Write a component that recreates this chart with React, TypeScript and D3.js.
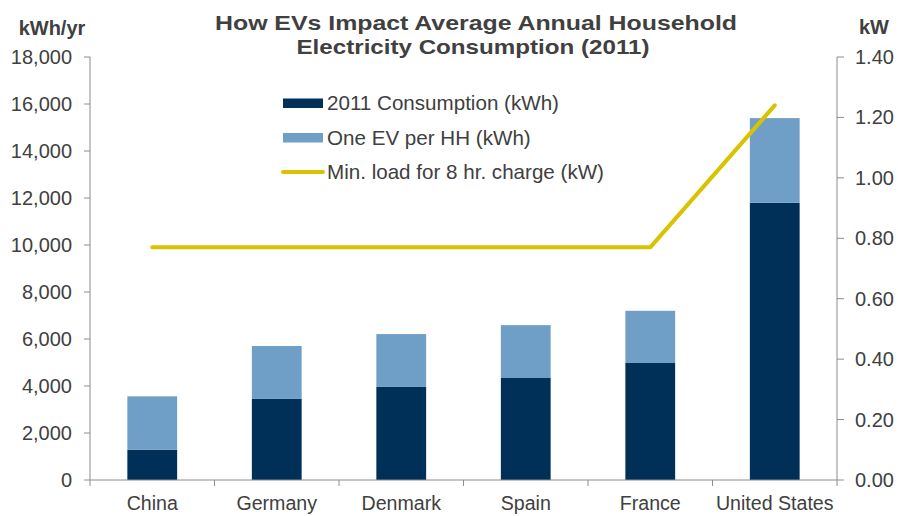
import React from "react";
import * as d3 from "d3";

const categories = ["China", "Germany", "Denmark", "Spain", "France", "United States"];
const consumption = [1290, 3450, 3960, 4340, 4980, 11800];
const oneEV = [2270, 2250, 2250, 2250, 2220, 3600];
const minLoad = [0.77, 0.77, 0.77, 0.77, 0.77, 1.24];
const leftTicks = [0, 2000, 4000, 6000, 8000, 10000, 12000, 14000, 16000, 18000];
const rightTicks = [0, 0.2, 0.4, 0.6, 0.8, 1.0, 1.2, 1.4];
const legendLabels = ["2011 Consumption (kWh)", "One EV per HH (kWh)", "Min. load for 8 hr. charge (kW)"];

const W = 898, H = 516;
const L = 90, R = 837, T = 57, B = 480;
const FONT = "Liberation Sans, Arial, sans-serif";
const TXT = "#404040";
const DARK = "#003057";
const LIGHT = "#6f9fc6";
const YEL = "#d9c300";
const AX = "#8c8c8c";

export default function App() {
  const x = d3.scaleBand<string>().domain(categories).range([L, R]).paddingInner(0).paddingOuter(0);
  const yL = d3.scaleLinear().domain([0, 18000]).range([B, T]);
  const yR = d3.scaleLinear().domain([0, 1.4]).range([B, T]);
  const bw = x.bandwidth() * 0.4;
  const cx = (c: string) => (x(c) as number) + x.bandwidth() / 2;
  const line = d3.line<number>().x((_, i) => cx(categories[i])).y((d) => yR(d));
  const fmtL = d3.format(",");
  const fmtR = d3.format(".2f");
  const boundaries = d3.range(categories.length + 1).map((i) => L + i * x.bandwidth());

  return (
    <svg width={W} height={H} style={{ position: "absolute", left: 0, top: 0 }} fontFamily={FONT}>
      <rect width={W} height={H} fill="#fff" />
      <text x={476} y={30} textAnchor="middle" fontSize={21} fontWeight="bold" fill={TXT} textLength={522} lengthAdjust="spacingAndGlyphs">How EVs Impact Average Annual Household</text>
      <text x={473} y={54} textAnchor="middle" fontSize={21} fontWeight="bold" fill={TXT} textLength={353} lengthAdjust="spacingAndGlyphs">Electricity Consumption (2011)</text>
      <text x={52} y={35} textAnchor="middle" fontSize={20} fontWeight="bold" fill={TXT}>kWh/yr</text>
      <text x={874} y={34} textAnchor="middle" fontSize={20} fontWeight="bold" fill={TXT}>kW</text>

      {categories.map((c, i) => (
        <g key={c}>
          <rect x={cx(c) - bw / 2} y={yL(consumption[i])} width={bw} height={B - yL(consumption[i])} fill={DARK} />
          <rect x={cx(c) - bw / 2} y={yL(consumption[i] + oneEV[i])} width={bw} height={yL(consumption[i]) - yL(consumption[i] + oneEV[i])} fill={LIGHT} />
        </g>
      ))}

      <path d={line(minLoad) as string} fill="none" stroke={YEL} strokeWidth={4} strokeLinecap="round" strokeLinejoin="round" />

      {/* left axis */}
      <line x1={L} x2={L} y1={T} y2={B} stroke={AX} strokeWidth={1} />
      {leftTicks.map((t) => (
        <g key={t}>
          <line x1={L - 6} x2={L} y1={yL(t)} y2={yL(t)} stroke={AX} />
          <text x={72} y={yL(t)} dy="0.35em" textAnchor="end" fontSize={20} fill={TXT}>{fmtL(t)}</text>
        </g>
      ))}
      {/* right axis */}
      <line x1={R} x2={R} y1={T} y2={B} stroke={AX} strokeWidth={1} />
      {rightTicks.map((t) => (
        <g key={t}>
          <line x1={R} x2={R + 7} y1={yR(t)} y2={yR(t)} stroke={AX} />
          <text x={855} y={yR(t)} dy="0.35em" textAnchor="start" fontSize={20} fill={TXT}>{fmtR(t)}</text>
        </g>
      ))}
      {/* bottom axis */}
      <line x1={L} x2={R} y1={B} y2={B} stroke={AX} />
      {boundaries.map((b, i) => (
        <line key={i} x1={b} x2={b} y1={B} y2={B + 6} stroke={AX} />
      ))}
      {categories.map((c) => (
        <text key={c} x={cx(c)} y={510} textAnchor="middle" fontSize={19.6} fill={TXT}>{c}</text>
      ))}

      {/* legend */}
      {legendLabels.map((lab, i) => {
        const ly = 103 + i * 34.5;
        return (
          <g key={lab}>
            {i < 2 ? (
              <rect x={283} y={ly - 4.5} width={40} height={9.5} fill={i === 0 ? DARK : LIGHT} />
            ) : (
              <line x1={283} x2={323} y1={ly} y2={ly} stroke={YEL} strokeWidth={4} strokeLinecap="round" />
            )}
            <text x={327} y={ly} dy="0.35em" fontSize={20.6} fill={TXT}>{lab}</text>
          </g>
        );
      })}
    </svg>
  );
}
